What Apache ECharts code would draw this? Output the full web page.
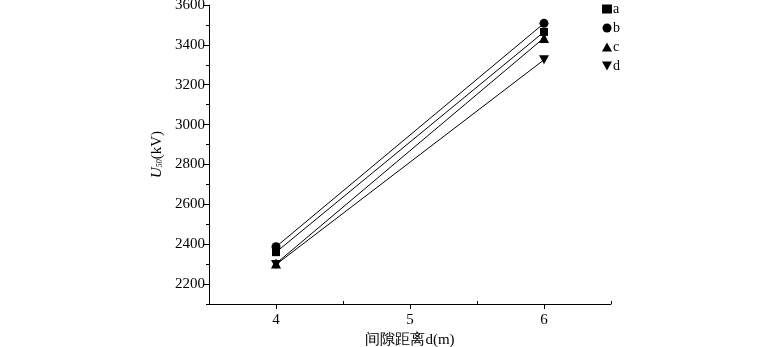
<!DOCTYPE html>
<html><head><meta charset="utf-8">
<script src="https://cdn.jsdelivr.net/npm/echarts@6/dist/echarts.min.js"></script>
<style>html,body{margin:0;padding:0;background:#fff}#c{width:771px;height:347px}</style>
</head><body><div id="c"></div>
<script>
const xValues = [4, 6];
const seriesNames = ['a', 'b', 'c', 'd'];
const aValues = [2360, 3465];
const bValues = [2387, 3508];
const cValues = [2303, 3435];
const dValues = [2298, 3325];
const xTickLabels = [4, 5, 6];
const xMinorTicks = [4.5, 5.5, 6.5];
const yTickLabels = [2200, 2400, 2600, 2800, 3000, 3200, 3400, 3600];
const yMinorTicks = [2100, 2300, 2500, 2700, 2900, 3100, 3300, 3500];

const font = 'Liberation Serif, Times New Roman, serif';
const downTri = 'path://M0,0 L10,0 L5,9 Z';
const symbols = ['rect', 'circle', 'triangle', downTri];
const legendIcons = ['rect', 'circle', 'triangle', downTri];
const sizes = [8, 9, 10, [10, 9]];
const allValues = [aValues, bValues, cValues, dValues];

const chart = echarts.init(document.getElementById('c'));
const axisCommon = {min: 3.5, max: 6.5, type: 'value', splitLine: {show: false}};
chart.setOption({
  animation: false,
  grid: {left: 209, right: 160, top: 5, bottom: 43, containLabel: false, outerBoundsMode: 'none'},
  legend: {
    orient: 'vertical', left: 597, top: -3, itemGap: 5, itemWidth: 10, itemHeight: 9,
    textStyle: {fontFamily: font, fontSize: 14, color: '#000', padding: [0,0,0,-4]},
    data: seriesNames.map((n, i) => ({name: n, icon: legendIcons[i], itemStyle: {color: '#000'}}))
  },
  xAxis: [
    Object.assign({}, axisCommon, {
      name: '间隙距离d(m)', nameLocation: 'middle', nameGap: 29,
      nameTextStyle: {fontFamily: font, fontSize: 15, color: '#000'},
      axisLine: {lineStyle: {color: '#000', width: 1}},
      axisTick: {show: true, inside: false, length: 5, customValues: xTickLabels, lineStyle: {color: '#000'}},
      axisLabel: {customValues: xTickLabels, fontFamily: font, fontSize: 15, color: '#000', margin: 9}
    }),
    Object.assign({}, axisCommon, {
      position: 'bottom',
      axisLine: {show: false},
      axisTick: {show: true, inside: true, length: 3, customValues: xMinorTicks, lineStyle: {color: '#000'}},
      axisLabel: {show: false}
    })
  ],
  yAxis: [
    {
      type: 'value', min: 2100, max: 3600,
      name: '{i|U}{s|50}{n|(kV)}', nameLocation: 'middle', nameGap: 42, nameRotate: 90,
      nameTextStyle: {rich: {
        i: {fontFamily: font, fontSize: 15, fontStyle: 'italic', color: '#000'},
        s: {fontFamily: font, fontSize: 8, fontStyle: 'italic', color: '#000', verticalAlign: 'bottom', padding: [6,0,0,0]},
        n: {fontFamily: font, fontSize: 15, color: '#000'}
      }},
      splitLine: {show: false},
      axisLine: {show: true, lineStyle: {color: '#000', width: 1}},
      axisTick: {show: true, inside: false, length: 5, customValues: yTickLabels, lineStyle: {color: '#000'}},
      axisLabel: {customValues: yTickLabels, formatter: v => String(v), fontFamily: font, fontSize: 15, color: '#000', margin: 4}
    },
    {
      type: 'value', min: 2100, max: 3600, position: 'left',
      splitLine: {show: false}, axisLine: {show: false},
      axisTick: {show: true, inside: false, length: 3, customValues: yMinorTicks, lineStyle: {color: '#000'}},
      axisLabel: {show: false}
    }
  ],
  series: seriesNames.map((n, i) => ({
    name: n, type: 'line', xAxisIndex: 0, yAxisIndex: 0,
    data: xValues.map((x, j) => [x, allValues[i][j]]),
    symbol: symbols[i], symbolSize: sizes[i],
    showSymbol: true,
    lineStyle: {color: '#000', width: 1},
    itemStyle: {color: '#000'}
  }))
});
</script></body></html>
